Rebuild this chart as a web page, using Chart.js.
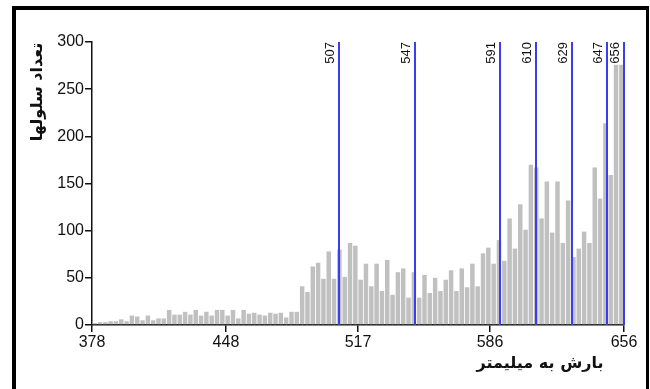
<!DOCTYPE html>
<html>
<head>
<meta charset="utf-8">
<script src="https://cdn.jsdelivr.net/npm/chart.js@4/dist/chart.umd.min.js"></script>
<style>
  body { margin: 0; background: #fff; }
  #wrap { position: relative; width: 650px; height: 389px; overflow: hidden; }
  #frame { position: absolute; left: 12px; top: 6px; width: 630px; height: 400px;
           border-left: 4px solid #000; border-top: 4px solid #000; border-right: 3px solid #000; }
  #chart { position: absolute; left: 0; top: 0; }
</style>
</head>
<body>
<div id="wrap">
  <div id="frame"></div>
  <canvas id="chart" width="650" height="389"></canvas>
</div>
<script>
// histogram range (mm) and cell counts per bin
const binStart = 378;
const binEnd = 656;
const counts = [
    2, 3, 3, 4, 4, 6, 4, 10, 9, 5,
    10, 5, 7, 7, 16, 11, 11, 14, 11, 16,
    10, 14, 10, 16, 16, 10, 16, 7, 16, 12,
    13, 11, 10, 13, 12, 13, 8, 14, 14, 41,
    35, 62, 66, 49, 78, 49, 80, 51, 87, 84,
    48, 65, 41, 65, 36, 69, 32, 56, 60, 29,
    56, 29, 53, 34, 50, 36, 48, 58, 36, 60,
    40, 65, 41, 76, 82, 65, 90, 68, 113, 81,
    128, 101, 170, 167, 113, 152, 98, 152, 87, 132,
    72, 81, 99, 87, 167, 134, 214, 159, 276, 276
];
const xTicks = [378, 448, 517, 586, 656];
const yTicks = [0, 50, 100, 150, 200, 250, 300];
const breaks = [507, 547, 591, 610, 629, 647, 656];
const yTitle = 'تعداد سلولها';
const xTitle = 'بارش به میلیمتر';

const binWidth = (binEnd - binStart) / counts.length;
const histData = counts.map((c, i) => ({ x: binStart + (i + 0.5) * binWidth, y: c }));

// class break lines, their labels and the axis titles
const overlay = {
    id: 'overlay',
    afterDatasetsDraw(chart) {
        const ctx = chart.ctx;
        const xs = chart.scales.x, ys = chart.scales.y;
        const top = ys.getPixelForValue(300);
        const bottom = ys.getPixelForValue(0);
        ctx.save();
        ctx.strokeStyle = '#3c3cf0';
        ctx.lineWidth = 2;
        breaks.forEach(b => {
            const px = Math.round(xs.getPixelForValue(b));
            ctx.beginPath();
            ctx.moveTo(px, top);
            ctx.lineTo(px, bottom);
            ctx.stroke();
        });
        ctx.fillStyle = '#111';
        ctx.font = '13px "Liberation Sans", Arial, sans-serif';
        ctx.textAlign = 'right';
        ctx.textBaseline = 'alphabetic';
        breaks.forEach(b => {
            const px = xs.getPixelForValue(b);
            ctx.save();
            ctx.translate(px - 5, top);
            ctx.rotate(-Math.PI / 2);
            ctx.fillText(String(b), 0, 0);
            ctx.restore();
        });
        ctx.font = 'bold 16px "DejaVu Sans", sans-serif';
        ctx.textAlign = 'center';
        ctx.textBaseline = 'middle';
        ctx.save();
        ctx.translate(38, 92);
        ctx.rotate(-Math.PI / 2);
        ctx.fillText(yTitle, 0, 0);
        ctx.restore();
        ctx.fillText(xTitle, 540, 364);
        ctx.restore();
    }
};

new Chart(document.getElementById('chart').getContext('2d'), {
    type: 'bar',
    data: {
        datasets: [{
            data: histData,
            backgroundColor: '#c0c0c0',
            borderWidth: 0,
            barPercentage: 0.84,
            categoryPercentage: 1
        }]
    },
    options: {
        responsive: false,
        animation: false,
        layout: { padding: { left: 20, top: 42, right: 26, bottom: 0 } },
        plugins: { legend: { display: false }, tooltip: { enabled: false } },
        scales: {
            x: {
                type: 'linear',
                min: binStart,
                max: binEnd,
                offset: false,
                afterBuildTicks: scale => { scale.ticks = xTicks.map(v => ({ value: v })); },
                afterFit: scale => { scale.height = 64; },
                grid: { display: true, offset: false, drawOnChartArea: false, drawTicks: true, tickLength: 7, color: '#111', lineWidth: 1.5 },
                border: { display: true, color: '#111', width: 1.5 },
                ticks: { color: '#111', font: { family: '"Liberation Sans", Arial, sans-serif', size: 16 }, padding: 1, maxRotation: 0, autoSkip: false }
            },
            y: {
                min: 0,
                max: 300,
                afterBuildTicks: scale => { scale.ticks = yTicks.map(v => ({ value: v })); },
                afterFit: scale => { scale.width = 72; },
                grid: { display: true, offset: false, drawOnChartArea: false, drawTicks: true, tickLength: 7, color: '#111', lineWidth: 1.5 },
                border: { display: true, color: '#111', width: 1.5 },
                ticks: { color: '#111', font: { family: '"Liberation Sans", Arial, sans-serif', size: 16 }, padding: 1 }
            }
        }
    },
    plugins: [overlay]
});
</script>
</body>
</html>
